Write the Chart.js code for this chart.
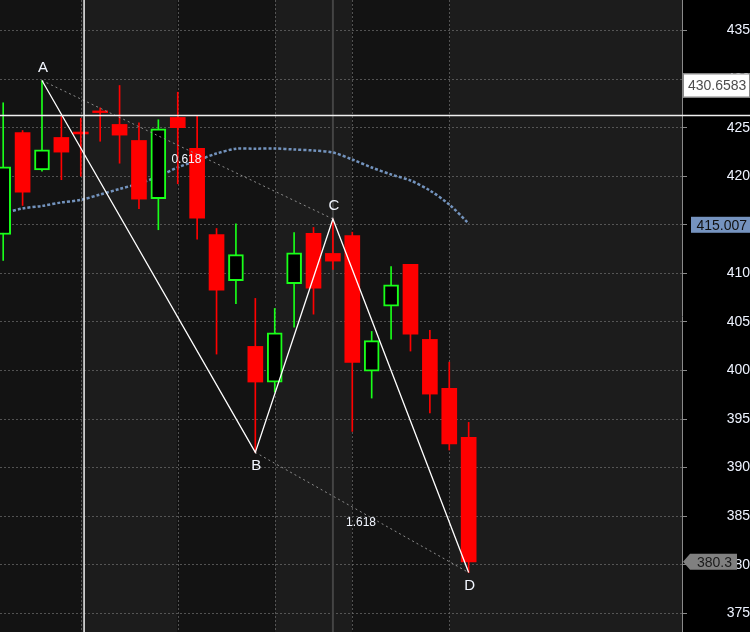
<!DOCTYPE html>
<html>
<head>
<meta charset="utf-8">
<title>ABCD pattern</title>
<script src="https://cdn.jsdelivr.net/npm/chart.js@4.4.0/dist/chart.umd.min.js"></script>
<style>
  html, body { margin: 0; padding: 0; background: #000; }
  #wrap { width: 750px; height: 632px; position: relative; }
</style>
</head>
<body>
<div id="wrap"><canvas id="myChart"></canvas></div>
<script>
// one entry per bar, bar number = index
const opens  = [414.0, 424.5, 420.66, 423.99, 424.55, 426.72, 425.33, 423.68, 417.68, 426.05, 422.86, 414.0, 409.24, 402.48, 398.81, 408.93, 414.11, 412.05, 413.9, 399.94, 406.63, 410.92, 403.2, 398.16, 393.12];
const highs  = [427.56, 424.7, 429.85, 426.15, 425.97, 427.04, 429.34, 425.5, 425.81, 428.65, 426.2, 414.62, 415.11, 407.42, 406.39, 414.21, 414.73, 415.6, 414.24, 404.02, 410.71, 410.92, 404.13, 400.86, 394.66];
const lows   = [411.33, 416.99, 420.52, 419.64, 420.0, 423.6, 421.34, 416.65, 414.49, 419.22, 413.52, 401.69, 406.87, 391.57, 397.78, 404.47, 405.8, 410.4, 393.73, 397.16, 403.23, 402.0, 395.62, 391.81, 379.2];
const closes = [420.97, 418.36, 422.72, 422.48, 424.35, 426.55, 424.23, 417.64, 424.88, 425.0, 415.68, 408.27, 411.92, 398.81, 403.89, 412.12, 408.48, 411.26, 400.83, 403.07, 408.83, 403.75, 397.57, 392.43, 380.3];
// moving average (dotted blue)
const maValues = [416.17, 416.68, 416.94, 417.3, 417.56, 418.12, 418.69, 419.25, 419.97, 420.9, 421.62, 422.34, 422.83, 422.83, 422.86, 422.75, 422.65, 422.44, 421.72, 420.9, 420.18, 419.56, 418.53, 417.09, 415.13];

// ABCD pattern points
const patternNames  = ['A', 'B', 'C', 'D'];
const patternBars   = [2, 13, 17, 24];
const patternPrices = [429.85, 391.57, 415.6, 379.2];
const ratioLabels   = ['0.618', '1.618'];   // on A-C and B-D

const sessionStarts = [4, 9, 14, 18, 23];
const yTicks = [375, 380, 385, 390, 395, 400, 405, 410, 415, 420, 425, 430, 435];

const crossBar = 4.17, crossPrice = 426.25;   // crosshair
const markerBar = 17;
const axisTags = [
  { text: '430.6583', price: 429.34, kind: 'cross' },
  { text: '415.007',  price: 415.0,  kind: 'ma' },
  { text: '380.3',    price: 380.3,  kind: 'last' }
];

const FONT = '"Liberation Sans", Arial, sans-serif';

const bodies = opens.map((o, i) => ({ x: i, y: [o, closes[i]] }));
const wicks  = lows.map((l, i) => ({ x: i, y: [l, highs[i]] }));
const isUp   = opens.map((o, i) => closes[i] >= o);

const pt = i => ({ x: patternBars[i], y: patternPrices[i] });

const drawPlugin = {
  id: 'chartDeco',
  beforeDraw(chart) {
    const { ctx, chartArea: a, scales: { x } } = chart;
    ctx.save();
    ctx.fillStyle = '#000';
    ctx.fillRect(0, 0, chart.width, chart.height);
    const edges = [a.left, ...sessionStarts.map(v => x.getPixelForValue(v)), a.right];
    for (let i = 0; i < edges.length - 1; i++) {
      ctx.fillStyle = i % 2 ? '#1c1c1c' : '#131313';
      ctx.fillRect(edges[i], a.top, edges[i + 1] - edges[i], a.bottom - a.top);
    }
    ctx.restore();
  },
  beforeDatasetsDraw(chart) {
    const { ctx, chartArea: a, scales: { x } } = chart;
    ctx.save();
    ctx.strokeStyle = 'rgba(110,110,110,0.7)';
    ctx.lineWidth = 1;
    ctx.setLineDash([2, 2]);
    sessionStarts.forEach(v => {
      const px = Math.round(x.getPixelForValue(v)) + 0.5;
      ctx.beginPath(); ctx.moveTo(px, a.top); ctx.lineTo(px, a.bottom); ctx.stroke();
    });
    ctx.setLineDash([]);
    ctx.strokeStyle = '#444';
    ctx.lineWidth = 2;
    const mx = x.getPixelForValue(markerBar);
    ctx.beginPath(); ctx.moveTo(mx, a.top); ctx.lineTo(mx, a.bottom); ctx.stroke();
    ctx.restore();
  },
  afterDatasetsDraw(chart) {
    const { ctx, scales: { x, y } } = chart;
    ctx.save();
    ctx.fillStyle = '#f2f6ff';
    ctx.textAlign = 'center';
    ctx.textBaseline = 'middle';
    ctx.font = '15px ' + FONT;
    patternNames.forEach((n, i) => {
      const px = x.getPixelForValue(patternBars[i]);
      const py = y.getPixelForValue(patternPrices[i]);
      const up = i % 2 === 0;
      ctx.fillText(n, px + 1, up ? py - 13 : py + 13);
    });
    ctx.font = '12px ' + FONT;
    ratioLabels.forEach((r, k) => {
      const p1 = pt(k), p2 = pt(k + 2);
      const px = (x.getPixelForValue(p1.x) + x.getPixelForValue(p2.x)) / 2;
      const py = (y.getPixelForValue(p1.y) + y.getPixelForValue(p2.y)) / 2;
      ctx.fillText(r, px - 1, py + 10);
    });
    ctx.restore();
  },
  afterDraw(chart) {
    const { ctx, chartArea: a, scales: { x, y } } = chart;
    ctx.save();
    // crosshair
    ctx.strokeStyle = '#f0f0f0';
    ctx.lineWidth = 1.5;
    const cy = y.getPixelForValue(crossPrice);
    const cx = x.getPixelForValue(crossBar);
    ctx.beginPath(); ctx.moveTo(0, cy); ctx.lineTo(chart.width, cy); ctx.stroke();
    ctx.beginPath(); ctx.moveTo(cx, a.top); ctx.lineTo(cx, a.bottom); ctx.stroke();

    // price tags on the axis
    ctx.font = '14px ' + FONT;
    ctx.textBaseline = 'middle';
    const L = a.right;
    axisTags.forEach(t => {
      const py = y.getPixelForValue(t.price);
      if (t.kind === 'cross') {
        ctx.fillStyle = '#fff';
        ctx.fillRect(L + 1, py - 12, chart.width - L - 1, 24);
        ctx.strokeStyle = '#888';
        ctx.lineWidth = 1;
        ctx.strokeRect(L + 1.5, py - 11.5, chart.width - L - 2, 23);
        ctx.fillStyle = '#4d4d4d';
        ctx.textAlign = 'left';
        ctx.fillText(t.text, L + 6, py + 1);
      } else if (t.kind === 'ma') {
        ctx.fillStyle = '#7593bf';
        ctx.fillRect(L + 9, py - 8, chart.width - L - 9, 16);
        ctx.fillStyle = '#111';
        ctx.textAlign = 'right';
        ctx.fillText(t.text, chart.width - 3, py + 1);
      } else {
        ctx.fillStyle = '#808080';
        ctx.beginPath();
        ctx.moveTo(L + 1, py);
        ctx.lineTo(L + 8, py - 8);
        ctx.lineTo(L + 55, py - 8);
        ctx.lineTo(L + 55, py + 8);
        ctx.lineTo(L + 8, py + 8);
        ctx.closePath();
        ctx.fill();
        ctx.fillStyle = '#1a1a1a';
        ctx.textAlign = 'right';
        ctx.fillText(t.text, L + 50, py + 1);
      }
    });
    ctx.restore();
  }
};

const ctx = document.getElementById('myChart').getContext('2d');
const myChart = new Chart(ctx, {
  type: 'bar',
  data: {
    datasets: [
      { // A-B-C-D legs
        type: 'line', data: patternBars.map((b, i) => pt(i)),
        borderColor: '#ffffff', borderWidth: 1.3, pointRadius: 0, tension: 0
      },
      {
        type: 'line', data: [pt(0), pt(2)],
        borderColor: '#8c8c8c', borderWidth: 1, borderDash: [2, 3], pointRadius: 0
      },
      {
        type: 'line', data: [pt(1), pt(3)],
        borderColor: '#8c8c8c', borderWidth: 1, borderDash: [2, 3], pointRadius: 0
      },
      { // candle bodies
        data: bodies,
        backgroundColor: isUp.map(u => u ? '#000000' : '#ff0000'),
        borderColor: isUp.map(u => u ? '#19ff19' : '#ff0000'),
        borderWidth: isUp.map(u => u ? 2 : 0),
        borderSkipped: false,
        barThickness: 15,
        grouped: false
      },
      { // wicks
        data: wicks,
        backgroundColor: isUp.map(u => u ? '#19ff19' : '#ff0000'),
        borderWidth: 0,
        barThickness: 1,
        grouped: false
      },
      {
        type: 'line', data: maValues.map((v, i) => ({ x: i, y: v })),
        borderColor: '#7393bd', borderWidth: 2.5, borderDash: [3, 2],
        pointRadius: 0, tension: 0.3
      }
    ]
  },
  options: {
    responsive: true,
    maintainAspectRatio: false,
    animation: false,
    events: [],
    layout: { padding: 0 },
    plugins: { legend: { display: false }, tooltip: { enabled: false } },
    scales: {
      x: {
        type: 'linear', display: false, offset: false,
        min: -0.165, max: 35.0
      },
      y: {
        position: 'right',
        min: 373.08, max: 438.14,
        afterBuildTicks: s => { s.ticks = yTicks.map(v => ({ value: v })); },
        afterFit: s => { s.width = 68; s.paddingTop = 0; s.paddingBottom = 0; },
        grid: {
          color: 'rgba(110,110,110,0.7)', lineWidth: 1,
          drawTicks: true, tickLength: 5, tickColor: '#8a8a8a', tickBorderDash: []
        },
        border: { display: true, color: '#8a8a8a', width: 1, dash: [2, 2] },
        ticks: {
          color: '#eef3ff', font: { family: FONT, size: 14 },
          crossAlign: 'far', padding: 37
        }
      }
    }
  },
  plugins: [drawPlugin]
});
</script>
</body>
</html>
